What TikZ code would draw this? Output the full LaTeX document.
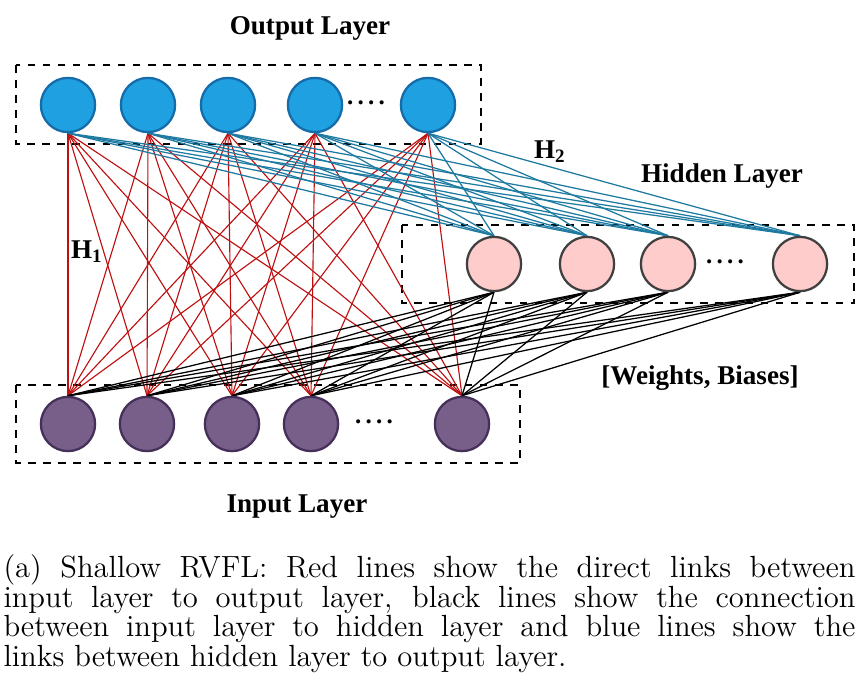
\documentclass[tikz,border=0pt]{standalone}
\usepackage{fontspec}
\newfontfamily\labelfont{Liberation Serif}
\usetikzlibrary{backgrounds}

\definecolor{outfill}{RGB}{31,160,224}
\definecolor{outline}{RGB}{22,108,168}
\definecolor{hidfill}{RGB}{255,204,204}
\definecolor{hidline}{RGB}{64,64,64}
\definecolor{infill}{RGB}{120,95,138}
\definecolor{inline}{RGB}{68,48,88}
\definecolor{redlink}{RGB}{190,16,16}
\definecolor{bluelink}{RGB}{30,122,160}

\begin{document}
\begin{tikzpicture}[x=0.014cm,y=-0.014cm]
\tikzstyle neuron=[circle, line width=0.9pt, minimum size=0.76cm, inner sep=0pt];
\tikzstyle outnode=[neuron, draw=outline, fill=outfill];
\tikzstyle hidnode=[neuron, draw=hidline, fill=hidfill];
\tikzstyle innode=[neuron, draw=inline, fill=infill];
\tikzstyle layerbox=[dashed, line width=0.6pt];
\tikzstyle title=[font={\labelfont\bfseries\fontsize{10.8}{13}\selectfont}];
\tikzstyle dotsnode=[font={\labelfont\bfseries}];
\useasboundingbox (0,0) rectangle (862,685);

% neurons
\foreach \n/\x in {1/68,2/148,3/228,4/315,5/428}
  \node[outnode] (o\n) at (\x,105) {};
\foreach \n/\x in {1/494,2/587,3/668,4/800}
  \node[hidnode] (h\n) at (\x,264) {};
\foreach \n/\x in {1/68,2/147,3/232,4/311,5/462}
  \node[innode] (i\n) at (\x,424) {};

\node[dotsnode] (odots) at (366,103) {.\,.\,.\,.};
\node[dotsnode] (hdots) at (725,262) {.\,.\,.\,.};
\node[dotsnode] (idots) at (374,422) {.\,.\,.\,.};

\begin{scope}[on background layer]
% dashed layer boxes
\draw[layerbox] (16,65) rectangle (481,144);
\draw[layerbox] (402,225) rectangle (854,303);
\draw[layerbox] (16,385) rectangle (520,463);
% links
\foreach \a in {1,...,5}
  \foreach \b in {1,...,5}
    \draw[redlink, line width=0.45pt] (o\a.south) -- (i\b.north);
\foreach \a in {1,...,5}
  \foreach \b in {1,...,4}
    \draw[bluelink, line width=0.5pt] (o\a.south) -- (h\b.north);
\foreach \a in {1,...,4}
  \foreach \b in {1,...,5}
    \draw[black, line width=0.5pt] (h\a.south) -- (i\b.north);
\end{scope}

% labels
\node[title] (outlab) at (310,28) {Output Layer};
\node[title] (hidlab) at (722,176) {Hidden Layer};
\node[title] (inlab) at (297,507) {Input Layer};
\node[title] (wblab) at (700,378) {[Weights, Biases]};
\node[title] (h1lab) at (87,252) {H\textsubscript{1}};
\node[title] (h2lab) at (550,152) {H\textsubscript{2}};

% caption
\node[anchor=north west, inner sep=0pt, text width=852*0.014cm, align=justify,
  font=\fontsize{12.2}{11.8}\selectfont] (caption) at (3,554)
{(a) Shallow RVFL: Red lines show the direct links between\linebreak
input layer to output layer, black lines show the connection\linebreak
between input layer to hidden layer and blue lines show the\linebreak
links between hidden layer to output layer.};
\end{tikzpicture}
\end{document}
